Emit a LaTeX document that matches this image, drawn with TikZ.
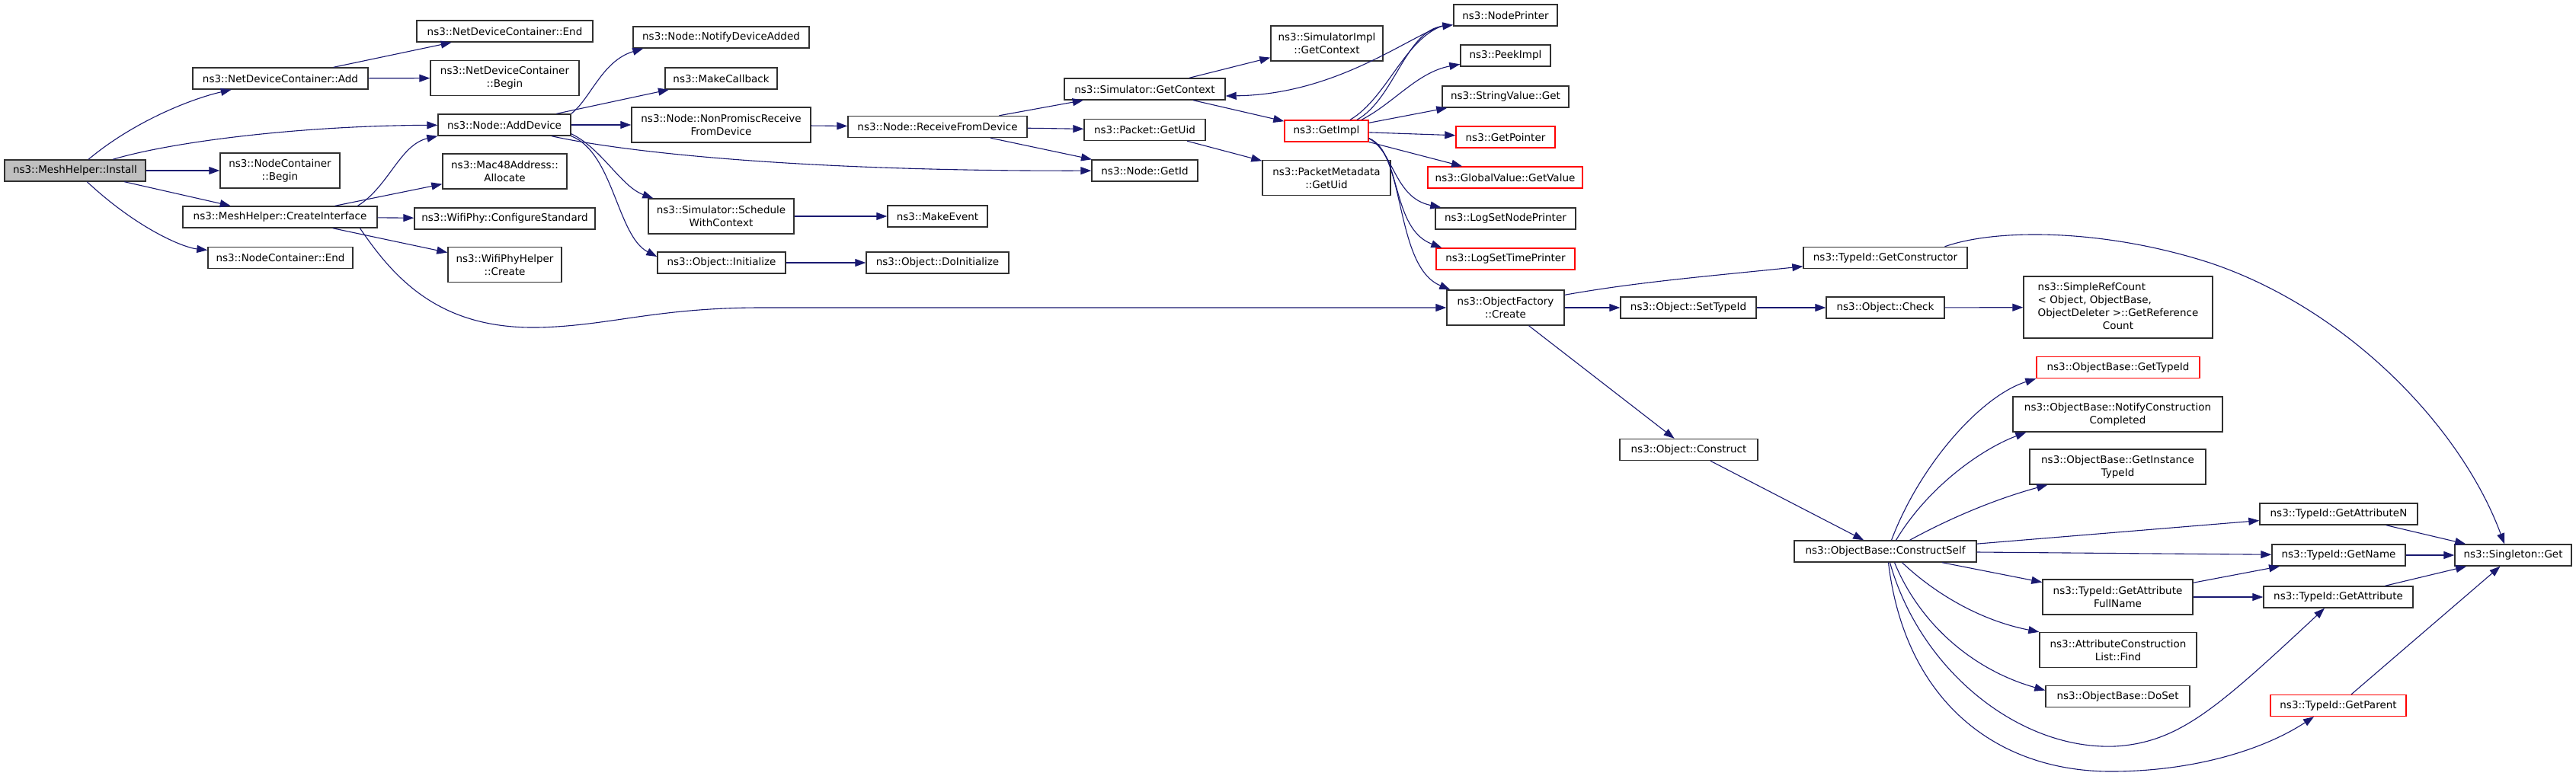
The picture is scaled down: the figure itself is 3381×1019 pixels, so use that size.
\documentclass[tikz,border=0pt]{standalone}
\usepackage{fontspec}
\setmainfont{DejaVu Sans}
\usepackage{xcolor}
\definecolor{Col1}{RGB}{25,25,112}
\definecolor{Col2}{RGB}{48,48,48}
\definecolor{Col3}{RGB}{191,191,191}
\usepackage{tikz}
\usetikzlibrary{arrows.meta}
\tikzstyle{Node}=[rectangle,draw=Col2,fill=white,line width=1.4pt,inner sep=2pt,
minimum height=28pt,align=center,font=\fontsize{13.5}{17}\selectfont]
\tikzstyle{NodeTwo}=[Node,minimum height=46pt]
\tikzstyle{NodeRed}=[Node,draw=red]
\tikzstyle{NodeRoot}=[Node,fill=Col3]
\tikzstyle{Edge}=[draw=Col1,line width=1.1pt,-{Triangle[length=14pt,width=10pt]}]
\begin{document}
\begin{tikzpicture}[x=1pt,y=1pt]
        \useasboundingbox(0,0)rectangle(3381,-1019);
        \node[NodeRoot,minimum width=185pt](0)at(98.50,-224.00){ns3::MeshHelper::Install};
        \node[Node,minimum width=230pt](1)at(368.00,-103.00){ns3::NetDeviceContainer::Add};
        \node[NodeTwo,minimum width=157pt](2)at(367.50,-224.00){ns3::NodeContainer\\::Begin};
        \node[Node,minimum width=255pt](3)at(367.50,-285.00){ns3::MeshHelper::CreateInterface};
        \node[Node,minimum width=190pt](4)at(368.00,-338.50){ns3::NodeContainer::End};
        \node[Node,minimum width=231pt](5)at(662.50,-41.00){ns3::NetDeviceContainer::End};
        \node[NodeTwo,minimum width=195pt](6)at(662.50,-102.50){ns3::NetDeviceContainer\\::Begin};
        \node[Node,minimum width=174pt](7)at(662.00,-164.00){ns3::Node::AddDevice};
        \node[NodeTwo,minimum width=163pt](8)at(662.50,-225.00){ns3::Mac48Address::\\Allocate};
        \node[Node,minimum width=237pt](9)at(662.50,-287.00){ns3::WifiPhy::ConfigureStandard};
        \node[NodeTwo,minimum width=149pt](10)at(662.50,-347.50){ns3::WifiPhyHelper\\::Create};
        \node[Node,minimum width=231pt](11)at(946.50,-49.00){ns3::Node::NotifyDeviceAdded};
        \node[Node,minimum width=147pt](12)at(946.50,-103.00){ns3::MakeCallback};
        \node[NodeTwo,minimum width=235pt](13)at(946.50,-164.00){ns3::Node::NonPromiscReceive\\FromDevice};
        \node[NodeTwo,minimum width=191pt](14)at(946.50,-284.00){ns3::Simulator::Schedule\\WithContext};
        \node[Node,minimum width=168pt](15)at(947.00,-345.00){ns3::Object::Initialize};
        \node[Node,minimum width=235pt](16)at(1230.50,-166.50){ns3::Node::ReceiveFromDevice};
        \node[Node,minimum width=131pt](17)at(1230.50,-284.00){ns3::MakeEvent};
        \node[Node,minimum width=187pt](18)at(1230.50,-345.00){ns3::Object::DoInitialize};
        \node[Node,minimum width=211pt](19)at(1502.50,-117.00){ns3::Simulator::GetContext};
        \node[Node,minimum width=159pt](20)at(1502.50,-170.50){ns3::Packet::GetUid};
        \node[Node,minimum width=139pt](21)at(1502.50,-224.00){ns3::Node::GetId};
        \node[NodeTwo,minimum width=147pt](22)at(1741.50,-57.00){ns3::SimulatorImpl\\::GetContext};
        \node[NodeRed,minimum width=110pt](23)at(1741.00,-172.00){ns3::GetImpl};
        \node[NodeTwo,minimum width=168pt](24)at(1741.00,-233.50){ns3::PacketMetadata\\::GetUid};
        \node[Node,minimum width=136pt](25)at(1976.00,-20.00){ns3::NodePrinter};
        \node[Node,minimum width=118pt](26)at(1976.00,-73.00){ns3::PeekImpl};
        \node[Node,minimum width=166pt](27)at(1976.00,-127.00){ns3::StringValue::Get};
        \node[NodeRed,minimum width=130pt](28)at(1976.00,-180.00){ns3::GetPointer};
        \node[NodeRed,minimum width=203pt](29)at(1975.50,-233.00){ns3::GlobalValue::GetValue};
        \node[Node,minimum width=184pt](30)at(1976.00,-287.00){ns3::LogSetNodePrinter};
        \node[NodeRed,minimum width=182pt](31)at(1976.00,-340.00){ns3::LogSetTimePrinter};
        \node[NodeTwo,minimum width=154pt](32)at(1976.00,-404.00){ns3::ObjectFactory\\::Create};
        \node[Node,minimum width=178pt](33)at(2216.00,-404.00){ns3::Object::SetTypeId};
        \node[Node,minimum width=181pt](34)at(2216.50,-590.50){ns3::Object::Construct};
        \node[Node,minimum width=215pt](35)at(2474.50,-338.50){ns3::TypeId::GetConstructor};
        \node[Node,minimum width=155pt](36)at(2474.50,-404.00){ns3::Object::Check};
        \node[Node,minimum width=239pt](37)at(2474.50,-724.00){ns3::ObjectBase::ConstructSelf};
        \node[Node,minimum width=248pt,minimum height=81pt](38)at(2780.00,-403.50){\begin{tabular}{@{}l@{}}ns3::SimpleRefCount\\< Object, ObjectBase,\\ObjectDeleter >::GetReference\\\multicolumn{1}{@{}c@{}}{Count}\end{tabular}};
        \node[NodeRed,minimum width=214pt](39)at(2780.00,-482.50){ns3::ObjectBase::GetTypeId};
        \node[NodeTwo,minimum width=275pt](40)at(2779.50,-544.00){ns3::ObjectBase::NotifyConstruction\\Completed};
        \node[NodeTwo,minimum width=231pt](41)at(2779.50,-613.00){ns3::ObjectBase::GetInstance\\TypeId};
        \node[NodeTwo,minimum width=197pt](42)at(2779.50,-784.00){ns3::TypeId::GetAttribute\\FullName};
        \node[NodeTwo,minimum width=206pt](43)at(2780.00,-853.50){ns3::AttributeConstruction\\List::Find};
        \node[Node,minimum width=189pt](44)at(2779.50,-914.50){ns3::ObjectBase::DoSet};
        \node[Node,minimum width=207pt](45)at(3069.50,-675.00){ns3::TypeId::GetAttributeN};
        \node[Node,minimum width=175pt](46)at(3069.50,-729.00){ns3::TypeId::GetName};
        \node[Node,minimum width=196pt](47)at(3069.00,-784.00){ns3::TypeId::GetAttribute};
        \node[NodeRed,minimum width=178pt](48)at(3069.00,-926.50){ns3::TypeId::GetParent};
        \node[Node,minimum width=153pt](49)at(3298.50,-729.00){ns3::Singleton::Get};
        \draw[Edge](0)..controls(175,-160)and(250,-130)..(1);
        \draw[Edge](0)..controls(230,-185)and(400,-165)..(7);
        \draw[Edge](0)--(2);
        \draw[Edge](0)--(3);
        \draw[Edge](0)..controls(180,-300)and(240,-325)..(4);
        \draw[Edge](1)--(5);
        \draw[Edge](1)--(6);
        \draw[Edge]([xshift=102pt]3.north)..controls(510,-245)and(525,-190)..(7.south west);
        \draw[Edge](3)--(8);
        \draw[Edge](3)--(9);
        \draw[Edge](3)--(10);
        \draw[Edge]([xshift=105pt]3.south)..controls(520,-370)and(580,-432)..(706,-430)..controls(800,-428)and(860,-404)..(1000,-404)--(32);
        \draw[Edge](7.north east)..controls(775,-130)and(790,-80)..([xshift=14pt]11.south west);
        \draw[Edge](7)--(12);
        \draw[Edge](7)--(13);
        \draw[Edge]([xshift=62pt]7.south)..controls(820,-200)and(1050,-225)..(21);
        \draw[Edge]([yshift=3pt]7.south east)..controls(790,-195)and(815,-245)..([xshift=7pt]14.north west);
        \draw[Edge](7.south east)..controls(805,-200)and(810,-310)..([yshift=8pt]15.west);
        \draw[Edge](13)--(16);
        \draw[Edge](14)--(17);
        \draw[Edge](15)--(18);
        \draw[Edge](16)--(19);
        \draw[Edge](16)--(20);
        \draw[Edge](16)--(21);
        \draw[Edge](19)--(22);
        \draw[Edge](19)--(23);
        \draw[Edge](20)--(24);
        \draw[Edge]([xshift=31pt]23.north)..controls(1822,-128)and(1845,-45)..(1900,-32)..controls(1855,-42)and(1760,-124)..([yshift=-9pt]19.east);
        \draw[Edge]([xshift=40pt]23.north)..controls(1830,-130)and(1845,-40)..([yshift=2pt]25.south west);
        \draw[Edge]([xshift=46pt]23.north)..controls(1830,-135)and(1860,-95)..(26);
        \draw[Edge](23)--(27);
        \draw[Edge](23)--(28);
        \draw[Edge](23)--(29);
        \draw[Edge]([yshift=5pt]23.south east)..controls(1830,-200)and(1830,-260)..([xshift=8pt]30.north west);
        \draw[Edge]([yshift=5pt]23.south east)..controls(1840,-200)and(1825,-300)..([xshift=8pt]31.north west);
        \draw[Edge]([yshift=5pt]23.south east)..controls(1845,-200)and(1830,-350)..([xshift=5pt]32.north west);
        \draw[Edge]([yshift=-7pt]32.north east)..controls(2150,-370)and(2250,-362)..(35);
        \draw[Edge](32)--(33);
        \draw[Edge](32)--(34);
        \draw[Edge](33)--(36);
        \draw[Edge](36)--(38);
        \draw[Edge]([xshift=78pt]35.north)..controls(2620,-300)and(2760,-300)..(2900,-345)..controls(3080,-405)and(3230,-560)..([xshift=-11.5pt]49.north);
        \draw[Edge](34)--(37);
        \draw[Edge]([xshift=8pt]37.north)..controls(2520,-610)and(2600,-520)..(39.south west);
        \draw[Edge]([xshift=14pt]37.north)..controls(2530,-640)and(2600,-590)..([xshift=18pt]40.south west);
        \draw[Edge]([xshift=32pt]37.north)..controls(2560,-680)and(2620,-655)..([xshift=24pt]41.south west);
        \draw[Edge](37)--(45);
        \draw[Edge](37)--(46);
        \draw[Edge](37)--(42);
        \draw[Edge]([xshift=22pt]37.south)..controls(2540,-780)and(2600,-815)..(43.north west);
        \draw[Edge]([xshift=12pt]37.south)..controls(2520,-820)and(2590,-880)..([yshift=8pt]44.west);
        \draw[Edge]([xshift=6pt]37.south)..controls(2520,-880)and(2650,-985)..(2776,-980)..controls(2860,-975)and(2910,-930)..([xshift=-18pt]47.south);
        \draw[Edge]([xshift=4pt]37.south)..controls(2500,-920)and(2620,-1015)..(2776,-1013)..controls(2880,-1012)and(2970,-985)..([xshift=-32pt]48.south);
        \draw[Edge](42)--(46);
        \draw[Edge](42)--(47);
        \draw[Edge](45)--(49);
        \draw[Edge](46)--(49);
        \draw[Edge](47)--(49);
        \draw[Edge](48)--(49);
    \end{tikzpicture}
\end{document}
